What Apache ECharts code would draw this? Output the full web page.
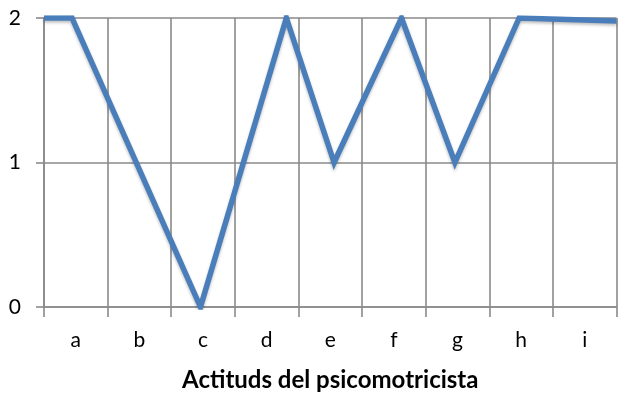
<!DOCTYPE html>
<html>
<head>
<meta charset="utf-8">
<script src="https://cdn.jsdelivr.net/npm/echarts@6/dist/echarts.min.js"></script>
<style>
  html, body { margin: 0; padding: 0; background: #ffffff; }
  #chart { width: 618px; height: 397px; }
</style>
</head>
<body>
<div id="chart"></div>
<script>
// Category labels along the bottom axis
const categories = ['a', 'b', 'c', 'd', 'e', 'f', 'g', 'h', 'i'];
// Y tick values
const yTicks = [0, 1, 2];
// Line vertices: position along the axis (in category widths) and value
const lineX = [0, 0.44, 2.46, 3.81, 4.56, 5.62, 6.46, 7.47, 9];
const lineY = [2, 2, 0, 2, 1, 2, 1, 2, 1.98];
const axisTitle = 'Actituds del psicomotricista';

const gridGray = '#8a8a8a';
const font = 'Lato, "Open Sans", sans-serif';

const chart = echarts.init(document.getElementById('chart'), null, { renderer: 'canvas' });

chart.setOption({
  animation: false,
  backgroundColor: '#ffffff',
  grid: { left: 44, right: 1.5, top: 18, bottom: 90, containLabel: false },
  xAxis: [
    {
      type: 'category',
      data: categories,
      boundaryGap: true,
      axisLine: { show: true, lineStyle: { color: gridGray, width: 1.6 } },
      axisTick: { show: true, length: 10, lineStyle: { color: gridGray, width: 1.6 } },
      splitLine: { show: true, lineStyle: { color: gridGray, width: 1.6 } },
      axisLabel: { color: '#000', fontSize: 21, fontFamily: font, margin: 23 },
      name: axisTitle,
      nameLocation: 'middle',
      nameGap: 61,
      nameTextStyle: { color: '#000', fontSize: 24, fontWeight: 'bold', fontFamily: font }
    },
    {
      type: 'value',
      min: 0,
      max: categories.length,
      show: false
    }
  ],
  yAxis: {
    type: 'value',
    min: yTicks[0],
    max: yTicks[yTicks.length - 1],
    interval: 1,
    axisLine: { show: true, lineStyle: { color: gridGray, width: 1.6 } },
    axisTick: { show: true, length: 8, lineStyle: { color: gridGray, width: 1.6 } },
    splitLine: { show: true, lineStyle: { color: gridGray, width: 1.6 } },
    axisLabel: { color: '#000', fontSize: 21, fontFamily: font, margin: 23 }
  },
  series: [
    {
      type: 'line',
      xAxisIndex: 1,
      data: lineX.map((x, i) => [x, lineY[i]]),
      symbol: 'none',
      lineStyle: {
        color: '#4a7ebb',
        width: 5.5,
        cap: 'butt',
        join: 'miter',
        shadowColor: 'rgba(0,0,0,0.25)',
        shadowBlur: 3,
        shadowOffsetY: 2
      }
    }
  ]
});
</script>
</body>
</html>
